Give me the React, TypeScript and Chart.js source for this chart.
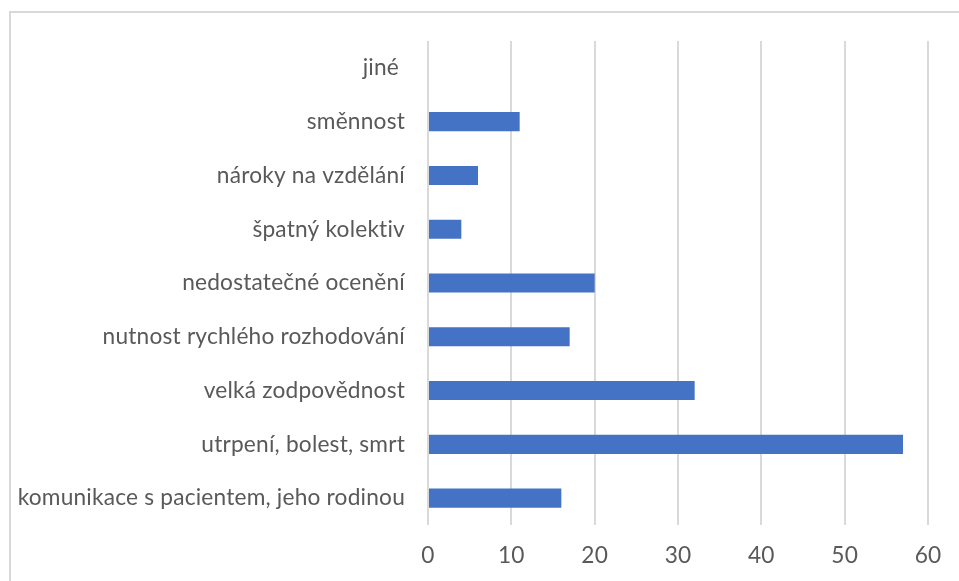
import React, { useEffect, useRef } from "react";
import { Chart, registerables } from "chart.js";

Chart.register(...registerables);

const categories = [
  "jiné ",
  "směnnost",
  "nároky na vzdělání",
  "špatný kolektiv",
  "nedostatečné ocenění",
  "nutnost rychlého rozhodování",
  "velká zodpovědnost",
  "utrpení, bolest, smrt",
  "komunikace s pacientem, jeho rodinou",
];

const values = [0, 11, 6, 4, 20, 17, 32, 57, 16];

const xTicks = { min: 0, max: 60, step: 10 };

const FONT = "Lato, 'Open Sans', sans-serif";
const TEXT = "#595959";
const SIZE = 22.7;

const noLigatures = {
  id: "noLigatures",
  beforeDraw(chart: any) {
    try {
      chart.ctx.letterSpacing = "0.2px";
    } catch (e) {}
  },
};

export default function App() {
  const ref = useRef<HTMLCanvasElement | null>(null);

  useEffect(() => {
    if (!ref.current) return;
    const chart = new Chart(ref.current, {
      type: "bar",
      data: {
        labels: categories,
        datasets: [
          {
            data: values,
            backgroundColor: "#4472C4",
            borderWidth: 0,
            categoryPercentage: 1,
            barPercentage: 0.355,
          },
        ],
      },
      plugins: [noLigatures],
      options: {
        indexAxis: "y",
        responsive: false,
        animation: false,
        devicePixelRatio: 1,
        layout: { padding: { top: 41, right: 31, left: 0, bottom: 0 } },
        plugins: {
          legend: { display: false },
          tooltip: { enabled: false },
        },
        scales: {
          x: {
            min: xTicks.min,
            max: xTicks.max,
            ticks: {
              stepSize: xTicks.step,
              color: TEXT,
              font: { family: FONT, size: SIZE },
              padding: 17,
            },
            grid: { color: "#d9d9d9", lineWidth: 2, drawTicks: false },
            border: { display: false },
            afterFit: (s: any) => {
              s.height = 56;
            },
          },
          y: {
            ticks: {
              color: TEXT,
              font: { family: FONT, size: SIZE },
              padding: 23,
              autoSkip: false,
            },
            grid: { display: false, drawTicks: false },
            border: { display: false },
            afterFit: (s: any) => {
              s.width = 428;
            },
          },
        },
      },
    });
    return () => chart.destroy();
  }, []);

  return (
    <div
      style={{
        position: "fixed",
        left: 0,
        top: 0,
        width: 959,
        height: 581,
        overflow: "hidden",
        background: "#ffffff",
      }}
    >
      <div
        style={{
          position: "absolute",
          left: 9,
          top: 11,
          width: 2000,
          height: 2000,
          borderLeft: "2px solid #d9d9d9",
          borderTop: "2px solid #d9d9d9",
        }}
      />
      <canvas
        ref={ref}
        width={959}
        height={581}
        style={{ position: "absolute", left: 0, top: 0, width: 959, height: 581 }}
      />
    </div>
  );
}
